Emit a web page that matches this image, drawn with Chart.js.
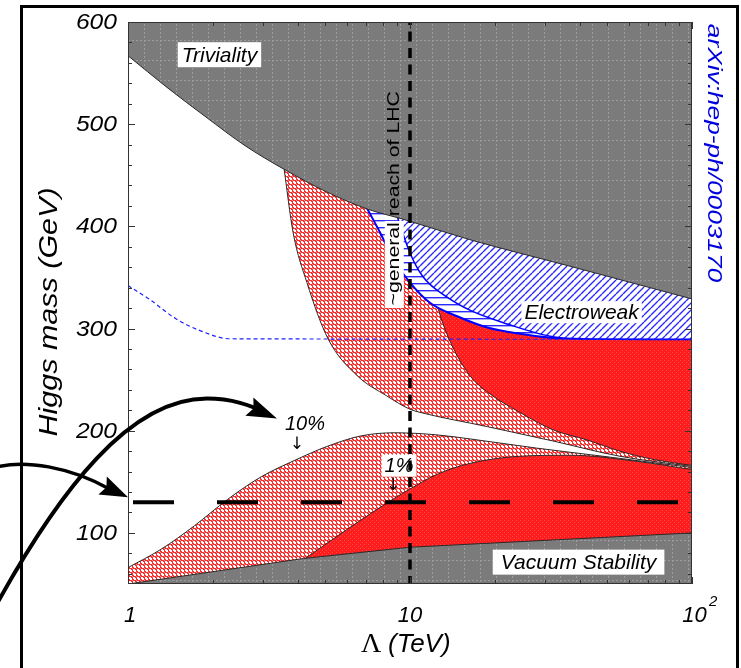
<!DOCTYPE html>
<html>
<head>
<meta charset="utf-8">
<script src="https://cdn.jsdelivr.net/npm/chart.js@4.4.1/dist/chart.umd.min.js"></script>
<style>
  html, body { margin: 0; padding: 0; background: #fff; }
  canvas { display: block; }
</style>
</head>
<body>
<canvas id="higgs" width="741" height="668"></canvas>
<script>
// cut-off scale Lambda (TeV) and Higgs mass (GeV)
const trivLambda = [1, 1.375, 1.89, 2.6, 3.57, 5.04, 7.05, 9.45, 16.3, 36.9, 100];
const trivMass   = [567, 536, 507, 479, 456, 434, 417, 407, 387, 361, 329];

const vacLambda = [1, 4.2, 10, 100];
const vacMass   = [50, 75, 86, 100];

const upper10Lambda = [3.57, 3.85, 4.31, 5.12, 6.49, 8.28, 10, 10.85, 18.8, 32.1, 55.5, 100];
const upper10Mass   = [458, 394, 345, 290, 254, 234, 221, 218, 204, 190, 175, 165];

const upper1Lambda = [12.2, 12.6, 13.9, 16.3, 18.8, 24.5, 32.1, 42.4, 55.5, 72.7, 100];
const upper1Mass   = [335, 319, 287, 254, 238, 218, 201, 191, 180, 172, 166];

const lower10Lambda = [1, 1.31, 1.72, 2.26, 2.97, 3.9, 5.12, 6.72, 8.83, 12.4, 16.3, 28.1, 48.4, 100];
const lower10Mass   = [66, 84, 107, 133, 155, 171, 185, 195, 198, 196, 192, 183, 175, 164];

const lower1Lambda = [4.0, 6.1, 8.36, 10, 12.4, 16.3, 24.5, 36.9, 64, 100];
const lower1Mass   = [70, 105, 130, 143, 157, 168, 175, 176, 170, 162];

const ewOuterLambda = [7.0, 7.83, 8.72, 10, 11.8, 14.7, 18.8, 24.5, 34.1, 100];
const ewOuterMass   = [419, 394, 368, 345, 325, 312, 301, 295, 290.5, 289.5];

const ewInnerLambda = [9.0, 10, 11.1, 13.5, 16.3, 21.3, 34.1, 47, 100];
const ewInnerMass   = [410, 374, 351, 331, 318, 306, 291, 289.8, 289.5];

const ewDashLambda = [1, 1.2, 1.47, 1.8, 2.3, 100];
const ewDashMass   = [342, 328, 310, 298, 290, 289.5];

const lhcReach = 10;      // TeV
const markedMass = 130;   // GeV

const yMajor = [100, 200, 300, 400, 500, 600];
const yLabels = ['100', '200', '300', '400', '500', '600'];
const xMajor = [1, 10, 100];

const pts = (xs, ys) => xs.map((x, i) => ({ x, y: ys[i] }));

function makePattern(w, h, paint) {
  const c = document.createElement('canvas');
  c.width = w; c.height = h;
  const g = c.getContext('2d');
  paint(g, w, h);
  return g.createPattern(c, 'repeat');
}

const grayFill = makePattern(16, 20, (g, w, h) => {
  g.fillStyle = '#7b7b7b'; g.fillRect(0, 0, w, h);
  g.fillStyle = '#9b9ba3';
  for (let x = 0; x < w; x += 4) g.fillRect(x, 0, 2, 1);
  for (let y = 0; y < h; y += 4) g.fillRect(0, y, 1, 2);
});
const hatchRed = makePattern(4, 4, (g) => {
  g.fillStyle = '#ff2a2a'; g.fillRect(0, 0, 4, 4);
  g.fillStyle = '#ffffff';
  g.fillRect(2, 1, 1, 3); g.fillRect(1, 2, 3, 1);
  g.fillRect(1, 1, 1, 1); g.fillRect(3, 3, 1, 1);
  g.fillStyle = '#ff9a9a';
  g.fillRect(0, 0, 1, 1);
});
const solidRed = makePattern(4, 4, (g) => {
  g.fillStyle = '#ff1c1c'; g.fillRect(0, 0, 4, 4);
  g.fillStyle = '#ff4c4c';
  g.fillRect(0, 0, 1, 1); g.fillRect(2, 2, 1, 1);
});
const diagBlue = makePattern(7, 7, (g) => {
  g.fillStyle = '#ffffff'; g.fillRect(0, 0, 7, 7);
  g.strokeStyle = '#2a2aff'; g.lineWidth = 1.4;
  g.beginPath();
  [-7, 0, 7].forEach((o) => { g.moveTo(o, 7); g.lineTo(o + 7, 0); });
  g.stroke();
});
const horizBlue = makePattern(8, 7, (g) => {
  g.fillStyle = '#ffffff'; g.fillRect(0, 0, 8, 7);
  g.fillStyle = '#2a2aff'; g.fillRect(0, 3, 8, 1.4);
});

const curve = { pointRadius: 0, borderWidth: 1, borderColor: '#2a2a2a', cubicInterpolationMode: 'monotone' };

const datasets = [
  { ...curve, label: 'Upper 10%', data: pts(upper10Lambda, upper10Mass), fill: 'end', backgroundColor: hatchRed, order: 20 },
  { ...curve, label: 'Upper 1%', data: pts(upper1Lambda, upper1Mass), fill: 'end', backgroundColor: solidRed, order: 19 },
  { ...curve, label: 'Electroweak outer', data: pts(ewOuterLambda, ewOuterMass), fill: 'end', backgroundColor: horizBlue, borderColor: '#0000ff', borderWidth: 2, order: 18 },
  { ...curve, label: 'Electroweak inner', data: pts(ewInnerLambda, ewInnerMass), fill: 'end', backgroundColor: diagBlue, borderColor: '#0000ff', borderWidth: 1.5, order: 17 },
  { ...curve, label: 'Triviality', data: pts(trivLambda, trivMass), fill: 'end', backgroundColor: grayFill, order: 16 },
  { ...curve, label: 'Lower 10%', data: pts(lower10Lambda, lower10Mass), fill: 'start', backgroundColor: hatchRed, order: 15 },
  { ...curve, label: 'Lower 1%', data: pts(lower1Lambda, lower1Mass), fill: 'start', backgroundColor: solidRed, order: 14 },
  { pointRadius: 0, borderWidth: 1, borderColor: '#2a2a2a', label: 'Vacuum Stability', data: pts(vacLambda, vacMass), fill: 'start', backgroundColor: grayFill, order: 13 },
  { ...curve, label: 'Electroweak dashed', data: pts(ewDashLambda, ewDashMass), fill: false, borderColor: '#2020ff', borderWidth: 1.2, borderDash: [4, 3], order: 12 },
  { pointRadius: 0, label: 'LHC reach', data: [{ x: lhcReach, y: 600 }, { x: lhcReach, y: 50 }], fill: false, borderColor: '#000', borderWidth: 3.5, borderDash: [10, 6.5], borderDashOffset: 7, order: 2 },
  { pointRadius: 0, label: 'Marked mass', data: [{ x: 1, y: markedMass }, { x: 100, y: markedMass }], fill: false, borderColor: '#000', borderWidth: 4, borderDash: [41, 43], borderDashOffset: 79, order: 1 },
];

const SANS = '"Liberation Sans", Arial, sans-serif';

function put(ctx, str, px, py, font, opts = {}) {
  ctx.save();
  ctx.translate(px, py);
  if (opts.rot) ctx.rotate(opts.rot);
  ctx.scale(opts.sx || 1, 1);
  ctx.font = font;
  ctx.fillStyle = opts.color || '#000';
  ctx.textAlign = opts.align || 'center';
  ctx.textBaseline = opts.base || 'middle';
  ctx.fillText(str, 0, 0);
  ctx.restore();
}

function boxed(ctx, str, px, py, font, h, pad) {
  ctx.save();
  ctx.font = font;
  const w = ctx.measureText(str).width + 2 * pad;
  ctx.fillStyle = '#fff';
  ctx.fillRect(px - w / 2, py - h / 2, w, h);
  ctx.restore();
  put(ctx, str, px, py + 1, font);
}

function arrowHead(ctx, tx, ty, ang, len, half) {
  ctx.save();
  ctx.translate(tx, ty);
  ctx.rotate(ang);
  ctx.beginPath();
  ctx.moveTo(0, 0);
  ctx.lineTo(-len, -half);
  ctx.lineTo(-len * 0.85, 0);
  ctx.lineTo(-len, half);
  ctx.closePath();
  ctx.fill();
  ctx.restore();
}

function drawRegionLabels(chart) {
  const { ctx, scales: { x, y } } = chart;
  const P = (l, m) => [x.getPixelForValue(l), y.getPixelForValue(m)];
  const italic = (s) => `italic ${s}px ${SANS}`;

  boxed(ctx, 'Triviality', ...P(2.11, 568), italic(21), 25, 4);
  boxed(ctx, 'Electroweak', ...P(40.6, 316), italic(21), 22, 3);
  boxed(ctx, 'Vacuum Stability', ...P(39.6, 71.4), italic(21), 25, 8);
  put(ctx, '10%', ...P(4.24, 206), italic(20));
  put(ctx, '\u2193', ...P(3.97, 186), `17px "DejaVu Sans"`);
  boxed(ctx, '1%', ...P(9.14, 165.8), italic(20), 22, 3);
  put(ctx, '\u2193', ...P(8.72, 146), `17px "DejaVu Sans"`);

  // vertical note beside the LHC line
  const [lx, ly] = P(8.83, 427.5);
  const full = '~general reach of LHC';
  ctx.save();
  ctx.translate(lx, ly);
  ctx.rotate(-Math.PI / 2);
  ctx.scale(1.25, 1);
  ctx.font = `17px ${SANS}`;
  const W = ctx.measureText(full).width;
  const w1 = ctx.measureText('~general').width;
  ctx.fillStyle = '#fff';
  ctx.fillRect(-W / 2 - 2, -10, w1 + 3, 19);
  ctx.fillStyle = '#000';
  ctx.textAlign = 'left';
  ctx.textBaseline = 'middle';
  ctx.fillText(full, -W / 2, 0);
  ctx.restore();
}

function drawAxes(chart) {
  const { ctx, chartArea: a, scales: { x, y } } = chart;
  ctx.save();
  ctx.strokeStyle = '#333';
  ctx.lineWidth = 1;
  ctx.strokeRect(a.left + 0.5, a.top + 0.5, a.right - a.left - 1, a.bottom - a.top - 1);

  ctx.beginPath();
  for (let m = 60; m < 600; m += 20) {
    const len = m % 100 === 0 ? 7 : 4;
    const py = Math.round(y.getPixelForValue(m)) + 0.5;
    ctx.moveTo(a.left, py); ctx.lineTo(a.left + len, py);
    ctx.moveTo(a.right, py); ctx.lineTo(a.right - len, py);
  }
  [1, 10].forEach((dec) => {
    for (let k = 1; k <= 10; k++) {
      const v = dec * k;
      const len = xMajor.includes(v) ? 7 : 4;
      const px = Math.round(x.getPixelForValue(v)) + 0.5;
      ctx.moveTo(px, a.bottom); ctx.lineTo(px, a.bottom - len);
      ctx.moveTo(px, a.top); ctx.lineTo(px, a.top + len);
    }
  });
  ctx.stroke();
  ctx.restore();

  yMajor.forEach((v, i) => {
    put(ctx, yLabels[i], a.left - 11, y.getPixelForValue(v) + 1, `italic 22px ${SANS}`, { align: 'right', sx: 1.12 });
  });
  const base = a.bottom + 38;
  put(ctx, '1', x.getPixelForValue(1) + 2, base, `italic 22px ${SANS}`, { base: 'alphabetic' });
  put(ctx, '10', x.getPixelForValue(10), base, `italic 22px ${SANS}`, { base: 'alphabetic' });
  put(ctx, '10', x.getPixelForValue(100) + 2.5, base, `italic 22px ${SANS}`, { base: 'alphabetic' });
  put(ctx, '2', x.getPixelForValue(100) + 17, base - 16, `italic 15px ${SANS}`, { base: 'alphabetic', align: 'left' });

  put(ctx, 'Higgs mass (GeV)', 50, (a.top + a.bottom) / 2 + 9, `italic 25px ${SANS}`, { rot: -Math.PI / 2, sx: 1.22 });
  put(ctx, '\u039b', 361, 652, '28px "Liberation Serif", serif', { align: 'left', base: 'alphabetic' });
  put(ctx, '(TeV)', 388, 652, `italic 26px ${SANS}`, { align: 'left', base: 'alphabetic' });
}

function drawOuter(chart) {
  const { ctx, scales: { x, y } } = chart;
  put(ctx, 'arXiv:hep-ph/0003170', 714, 153, `italic 21px ${SANS}`, { rot: Math.PI / 2, sx: 1.25, color: '#0000dd' });

  ctx.save();
  ctx.strokeStyle = '#000';
  ctx.lineWidth = 3;
  ctx.strokeRect(21.5, 6.5, 716, 700);

  // arrow towards the 10% label
  const t1x = x.getPixelForValue(4.24) - 28;
  const t1y = y.getPixelForValue(206) - 6;
  ctx.lineWidth = 4;
  ctx.beginPath();
  ctx.moveTo(t1x - 281, t1y + 187);
  ctx.bezierCurveTo(t1x - 217, t1y + 71, t1x - 147, t1y - 20, t1x - 70, t1y - 20);
  ctx.bezierCurveTo(t1x - 45, t1y - 20, t1x - 25, t1y - 13, t1x - 15, t1y - 7);
  ctx.stroke();
  ctx.fillStyle = '#000';
  arrowHead(ctx, t1x, t1y, Math.atan2(13, 30), 30, 10);

  // arrow towards the marked mass line
  const t2x = x.getPixelForValue(1);
  const t2y = y.getPixelForValue(markedMass) - 5;
  ctx.lineWidth = 3.5;
  ctx.beginPath();
  ctx.moveTo(t2x - 132, t2y - 30);
  ctx.bezierCurveTo(t2x - 103, t2y - 38, t2x - 58, t2y - 30, t2x - 20, t2y - 9);
  ctx.stroke();
  arrowHead(ctx, t2x, t2y, Math.atan2(13, 28), 28, 10);
  ctx.restore();
}

const decorations = {
  id: 'decorations',
  beforeDatasetDraw(chart, args) {
    if (chart.data.datasets[args.index].label === 'LHC reach') drawRegionLabels(chart);
  },
  afterDraw(chart) {
    drawAxes(chart);
    drawOuter(chart);
  },
};

new Chart(document.getElementById('higgs'), {
  type: 'line',
  data: { datasets },
  options: {
    responsive: false,
    animation: false,
    layout: { padding: { left: 128, right: 49, top: 22, bottom: 84 } },
    plugins: { legend: { display: false }, tooltip: { enabled: false } },
    scales: {
      x: { type: 'logarithmic', min: 1, max: 100, display: false },
      y: { type: 'linear', min: 50, max: 600, display: false },
    },
  },
  plugins: [decorations],
});
</script>
</body>
</html>
